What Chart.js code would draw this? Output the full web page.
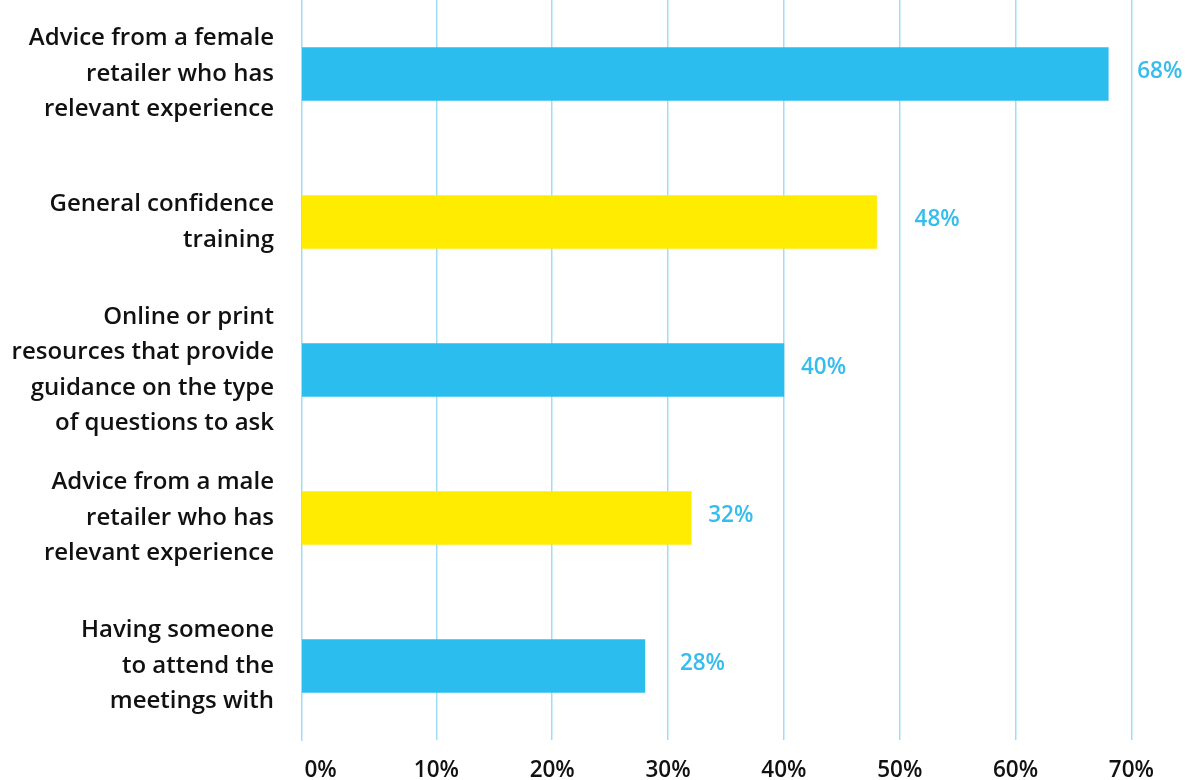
<!DOCTYPE html>
<html>
<head>
<meta charset="utf-8">
<script src="https://cdn.jsdelivr.net/npm/chart.js@4/dist/chart.umd.min.js"></script>
<style>
  html, body { margin: 0; padding: 0; background: #fff; }
  #wrap { width: 1185px; height: 780px; }
</style>
</head>
<body>
<div id="wrap"><canvas id="chart" width="1185" height="780"></canvas></div>
<script>
const categories = [
  ['Advice from a female', 'retailer who has', 'relevant experience'],
  ['General confidence', 'training'],
  ['Online or print', 'resources that provide', 'guidance on the type', 'of questions to ask'],
  ['Advice from a male', 'retailer who has', 'relevant experience'],
  ['Having someone', 'to attend the', 'meetings with']
];
const values = [68, 48, 40, 32, 28];
const xTicks = [0, 10, 20, 30, 40, 50, 60, 70];

const BLUE = '#2bbdee';
const YELLOW = '#ffec00';
const GRID = '#a2ddf5';
const FONT = '"Open Sans", "Noto Sans", sans-serif';

// gap between bar end and its value label, per bar
const labelGaps = [29, 38, 17, 17, 35];

const valueLabels = {
  id: 'valueLabels',
  afterDatasetsDraw(chart) {
    const ctx = chart.ctx;
    const meta = chart.getDatasetMeta(0);
    ctx.save();
    ctx.font = '600 22.5px ' + FONT;
    ctx.fillStyle = '#36bdee';
    ctx.textAlign = 'left';
    ctx.textBaseline = 'middle';
    meta.data.forEach((bar, i) => {
      ctx.fillText(values[i] + '%', bar.x + labelGaps[i], bar.y - 2);
    });
    ctx.restore();
  }
};

new Chart(document.getElementById('chart'), {
  type: 'bar',
  data: {
    labels: categories,
    datasets: [{
      data: values,
      base: -1.6,
      backgroundColor: values.map((v, i) => i % 2 === 0 ? BLUE : YELLOW),
      barThickness: 53,
      borderWidth: 0
    }]
  },
  options: {
    indexAxis: 'y',
    responsive: false,
    animation: false,
    layout: { padding: { top: 0, right: 42, bottom: 0, left: 0 } },
    plugins: {
      legend: { display: false },
      tooltip: { enabled: false }
    },
    scales: {
      x: {
        min: -1.6,
        max: 71,
        afterBuildTicks: s => { s.ticks = xTicks.map(v => ({ value: v })); },
        afterFit: s => { s.height = 40; s.paddingLeft = 0; s.paddingRight = 0; },
        grid: {
          color: c => (c.tick && c.tick.value === 0) ? 'rgba(0,0,0,0)' : GRID,
          lineWidth: 1.5,
          drawTicks: false
        },
        border: { display: false },
        ticks: {
          padding: 17,
          color: '#111',
          font: { family: FONT, size: 22.5, weight: '600' },
          callback: v => v + '%'
        }
      },
      y: {
        afterFit: s => { s.width = 302; s.paddingTop = 0; s.paddingBottom = 0; },
        grid: { display: false, drawTicks: false },
        border: { display: true, color: GRID, width: 1.5 },
        ticks: {
          padding: 28,
          color: '#111',
          font: { family: FONT, size: 24, weight: '600', lineHeight: 1.48 }
        }
      }
    }
  },
  plugins: [valueLabels]
});
</script>
</body>
</html>
